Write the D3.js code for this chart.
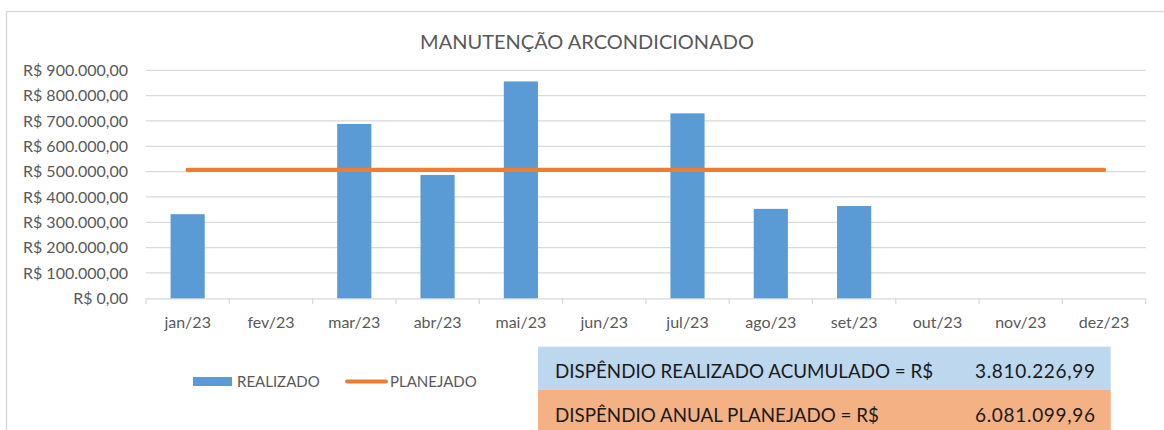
<!DOCTYPE html>
<html>
<head>
<meta charset="utf-8">
<script src="https://cdn.jsdelivr.net/npm/d3@7"></script>
<style>
  body { margin: 0; background: #fff; }
  svg { display: block; font-family: Lato, "Open Sans", sans-serif; }
</style>
</head>
<body>
<div id="chart"></div>
<script>
// dados do grafico
var meses = ['jan/23', 'fev/23', 'mar/23', 'abr/23', 'mai/23', 'jun/23',
             'jul/23', 'ago/23', 'set/23', 'out/23', 'nov/23', 'dez/23'];
var realizado = [332000, null, 688000, 487000, 856000, null,
                 730000, 353000, 364227, null, null, null];
var planejado = [506758.33, 506758.33, 506758.33, 506758.33, 506758.33, 506758.33,
                 506758.33, 506758.33, 506758.33, 506758.33, 506758.33, 506758.33];
var yTicks = [0, 100000, 200000, 300000, 400000, 500000, 600000, 700000, 800000, 900000];
var titulo = 'MANUTENÇÃO ARCONDICIONADO';
var legenda = ['REALIZADO', 'PLANEJADO'];
var tabelaRotulos = ['DISPÊNDIO REALIZADO ACUMULADO = R$', 'DISPÊNDIO ANUAL PLANEJADO = R$'];
var tabelaValores = ['3.810.226,99', '6.081.099,96'];

var WIDTH = 1164, HEIGHT = 430;
var AZUL = '#5B9BD5', LARANJA = '#ED7D31', GRADE = '#d9d9d9', TEXTO = '#595959';

var br = d3.formatLocale({decimal: ',', thousands: '.', grouping: [3], currency: ['R$ ', '']});
var fmt = br.format('$,.2f');

var svg = d3.select('#chart').append('svg')
    .attr('width', WIDTH)
    .attr('height', HEIGHT);

// moldura do grafico
svg.append('rect')
    .attr('x', 6.5).attr('y', 11.5)
    .attr('width', 1200).attr('height', 500)
    .attr('fill', '#fff')
    .attr('stroke', GRADE)
    .attr('stroke-width', 1.5);

svg.append('text')
    .attr('x', 587).attr('y', 49)
    .attr('text-anchor', 'middle')
    .attr('fill', TEXTO)
    .style('font-size', '20px')
    .text(titulo);

var x = d3.scaleBand()
    .domain(meses)
    .range([146, 1145.7])
    .padding(0);

var y = d3.scaleLinear()
    .domain([0, 900000])
    .range([298.3, 70.3]);

// grade
svg.append('g')
  .selectAll('line')
  .data(yTicks.slice(1))
  .enter().append('line')
    .attr('x1', 146).attr('x2', 1145.7)
    .attr('y1', function(d) { return y(d); })
    .attr('y2', function(d) { return y(d); })
    .attr('stroke', GRADE)
    .attr('stroke-width', 1.3);

// eixo y
var yAxis = svg.append('g')
    .attr('transform', 'translate(146,0)')
    .call(d3.axisLeft(y).tickValues(yTicks).tickFormat(fmt).tickSize(0).tickPadding(18));
yAxis.select('.domain').remove();
yAxis.selectAll('text')
    .attr('fill', TEXTO)
    .style('font-family', 'Lato, sans-serif')
    .style('font-size', '16px');

// eixo x
var xAxis = svg.append('g')
    .attr('transform', 'translate(0,298.3)')
    .call(d3.axisBottom(x).tickSize(0).tickPadding(18));
xAxis.select('.domain').attr('stroke', GRADE).attr('stroke-width', 1.3);
xAxis.selectAll('text')
    .attr('fill', TEXTO)
    .style('font-family', 'Lato, sans-serif')
    .style('font-size', '16px');

svg.append('g')
  .selectAll('line')
  .data(meses.concat(['fim']))
  .enter().append('line')
    .attr('x1', function(d, i) { return i < meses.length ? x(d) : x.range()[1]; })
    .attr('x2', function(d, i) { return i < meses.length ? x(d) : x.range()[1]; })
    .attr('y1', 298.3).attr('y2', 304)
    .attr('stroke', GRADE)
    .attr('stroke-width', 1.3);

// barras
var barW = x.bandwidth() * 0.41;
svg.append('g')
  .selectAll('rect')
  .data(meses.map(function(m, i) { return {m: m, v: realizado[i]}; })
    .filter(function(d) { return d.v != null; }))
  .enter().append('rect')
    .attr('x', function(d) { return x(d.m) + (x.bandwidth() - barW) / 2; })
    .attr('y', function(d) { return y(d.v); })
    .attr('width', barW)
    .attr('height', function(d) { return y(0) - y(d.v); })
    .attr('fill', AZUL);

// linha planejado
var line = d3.line()
    .x(function(d, i) { return x(meses[i]) + x.bandwidth() / 2; })
    .y(function(d) { return y(d); });

svg.append('path')
    .datum(planejado)
    .attr('d', line)
    .attr('fill', 'none')
    .attr('stroke', LARANJA)
    .attr('stroke-width', 4.3)
    .attr('stroke-linecap', 'round');

// legenda
var leg = svg.append('g');
leg.append('rect')
    .attr('x', 193).attr('y', 377)
    .attr('width', 39).attr('height', 9)
    .attr('fill', AZUL);
leg.append('text')
    .attr('x', 237).attr('y', 387)
    .attr('fill', TEXTO)
    .style('font-size', '15px')
    .text(legenda[0]);
leg.append('line')
    .attr('x1', 347).attr('x2', 386)
    .attr('y1', 381.5).attr('y2', 381.5)
    .attr('stroke', LARANJA)
    .attr('stroke-width', 4)
    .attr('stroke-linecap', 'round');
leg.append('text')
    .attr('x', 390).attr('y', 387)
    .attr('fill', TEXTO)
    .style('font-size', '15px')
    .text(legenda[1]);

// tabela de totais
var cores = ['#BDD7EE', '#F4B183'];
var tab = svg.append('g');
tabelaRotulos.forEach(function(r, i) {
  var top = 346.7 + i * 43.3;
  tab.append('rect')
      .attr('x', 538).attr('y', top)
      .attr('width', 1110.7 - 538).attr('height', 43.3)
      .attr('fill', cores[i]);
  tab.append('text')
      .attr('x', 555).attr('y', top + 31.5)
      .attr('fill', '#1a1a1a')
      .style('font-size', '18.8px')
      .text(r);
  tab.append('text')
      .attr('x', 1095).attr('y', top + 31.5)
      .attr('text-anchor', 'end')
      .attr('fill', '#1a1a1a')
      .style('font-size', '19px')
      .attr('textLength', 120)
      .attr('lengthAdjust', 'spacing')
      .text(tabelaValores[i]);
});
</script>
</body>
</html>
